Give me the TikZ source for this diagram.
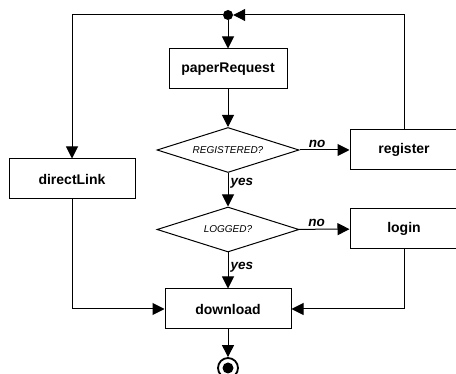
\documentclass[tikz,border=0pt]{standalone}
\usepackage{fontspec}
\setmainfont{Liberation Sans}
\usetikzlibrary{arrows.meta,shapes.geometric,positioning}
\tikzset{
flowline/.style={line width=1pt},
arr/.style={flowline,-{Triangle[length=12pt,width=12pt]}},
activity/.style={draw,flowline,inner sep=0pt,minimum height=40pt,minimum width=#1,font=\bfseries\fontsize{14}{16}\selectfont},
activity/.default=126pt,
decision/.style={draw,flowline,diamond,aspect=3.15,inner sep=0pt,minimum width=142pt,minimum height=45pt,font=\itshape\fontsize{10}{12}\selectfont},
guard/.style={font=\bfseries\itshape\fontsize{13.5}{15}\selectfont,inner sep=2pt},
joinpoint/.style={circle,fill=black,inner sep=0pt,minimum size=10pt},
endpoint/.style={circle,draw,line width=1.8pt,inner sep=0pt,minimum size=20pt},
}

\begin{document}
\begin{tikzpicture}[x=1pt,y=-1pt]
        \useasboundingbox (0,0) rectangle (456,374);

        % nodes
        \node[joinpoint] (join) at (228,15) {};
        \node[activity=118pt] (request) at (228,69) {paperRequest};
        \node[decision] (registered) at (228,150) {REGISTERED?};
        \node[activity=108pt] (register) at (404,150) {register};
        \node[activity] (directlink) at (72,179) {directLink};
        \node[decision] (logged) at (228,229.5) {LOGGED?};
        \node[activity=108pt] (login) at (404,229) {login};
        \node[activity] (download) at (228,309) {download};
        \node[endpoint] (final) at (228,368) {};
        \fill (final) circle (5.5pt);

        % main flow
        \draw[arr] (join) -- (request);
        \draw[arr] (request) -- (registered);
        \draw[arr] (registered) -- node[guard,above,pos=0.35] {no} (register);
        \draw[arr] (registered) -- node[guard,right,pos=0.3] {yes} (logged);
        \draw[arr] (logged) -- node[guard,above,pos=0.35] {no} (login);
        \draw[arr] (logged) -- node[guard,right,pos=0.4] {yes} (download);
        \draw[arr] (download) -- (final);

        % loops back
        \draw[arr] (register) |- (join);
        \draw[arr] (join) -| (directlink);
        \draw[arr] (directlink) |- (download);
        \draw[arr] (login) |- (download);
\end{tikzpicture}
\end{document}
